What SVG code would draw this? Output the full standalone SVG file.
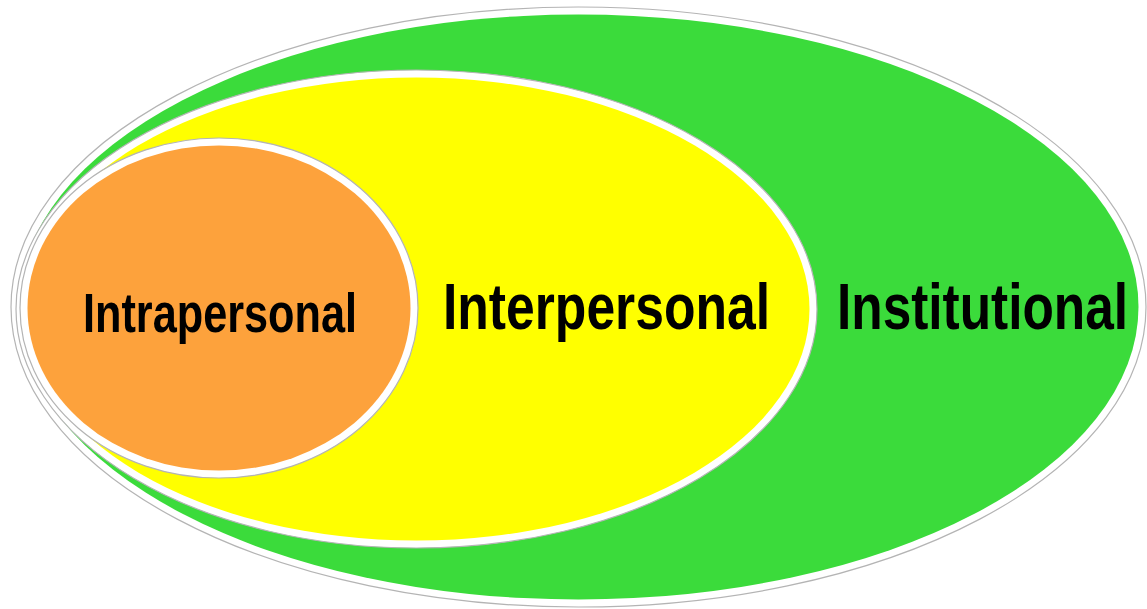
<svg xmlns="http://www.w3.org/2000/svg" width="1147" height="609" viewBox="0 0 1147 609">
  <style>
    .rim { fill: #ffffff; stroke: #b4b4b4; stroke-width: 1.2; }
    .lbl { font-family: "Liberation Sans", Arial, sans-serif; font-weight: bold; fill: #000000; }
  </style>
  <rect x="0" y="0" width="1147" height="609" fill="#ffffff"/>
  <g id="institutional">
    <ellipse class="rim" cx="578.5" cy="307" rx="567.5" ry="300"/>
    <ellipse cx="578.5" cy="307" rx="560" ry="292.5" fill="#3bdb3b"/>
    <text class="lbl" x="837" y="329" font-size="64" textLength="291" lengthAdjust="spacingAndGlyphs">Institutional</text>
  </g>
  <g id="interpersonal">
    <ellipse class="rim" cx="416.5" cy="309" rx="400.5" ry="239"/>
    <ellipse cx="416.5" cy="309" rx="393" ry="231.5" fill="#ffff00"/>
    <text class="lbl" x="443" y="329" font-size="64" textLength="327" lengthAdjust="spacingAndGlyphs">Interpersonal</text>
  </g>
  <g id="intrapersonal">
    <ellipse class="rim" cx="219" cy="308" rx="199" ry="170"/>
    <ellipse cx="219" cy="308" rx="191.5" ry="162.5" fill="#fda23c"/>
    <text class="lbl" x="83" y="332" font-size="56" textLength="274" lengthAdjust="spacingAndGlyphs">Intrapersonal</text>
  </g>
  <g id="connectors"/>
</svg>
